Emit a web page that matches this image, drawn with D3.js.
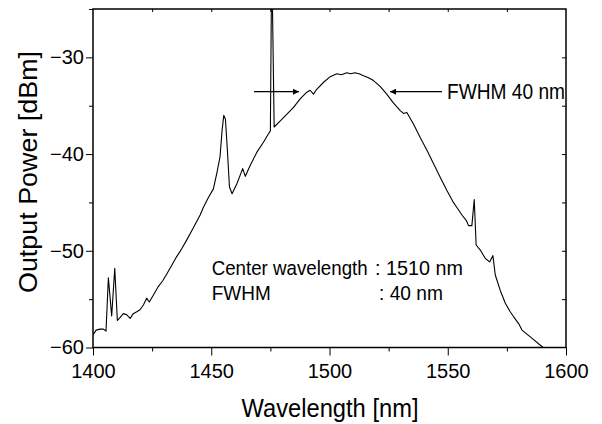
<!DOCTYPE html>
<html><head><meta charset="utf-8">
<script src="https://cdn.jsdelivr.net/npm/d3@7"></script>
<style>
body{margin:0;background:#fff;}
svg{display:block;font-family:Arial,"Liberation Sans",sans-serif;}
</style></head>
<body><svg id="c" width="602" height="424"></svg>
<script>
const wavelength = [1400.0,1401.3,1403.0,1404.4,1405.5,1406.5,1407.9,1409.2,1410.3,1411.4,1412.8,1414.2,1415.7,1417.0,1418.5,1419.9,1421.3,1422.7,1423.8,1425.5,1427.6,1429.5,1431.2,1433.3,1435.4,1437.5,1439.6,1442.5,1445.3,1446.7,1448.8,1450.9,1452.3,1453.7,1454.6,1455.3,1456.0,1456.8,1457.7,1458.8,1460.8,1462.2,1463.3,1464.4,1466.4,1469.3,1472.0,1474.2,1475.0,1475.4,1475.9,1476.6,1479.1,1481.9,1484.7,1487.6,1490.4,1491.8,1493.2,1494.6,1497.4,1500.3,1503.1,1505.0,1507.3,1509.0,1510.8,1512.5,1514.4,1516.5,1518.6,1521.4,1524.2,1527.0,1529.9,1531.3,1532.7,1535.5,1538.4,1541.2,1544.0,1546.8,1549.7,1552.4,1553.8,1556.0,1557.8,1558.8,1560.2,1561.2,1562.0,1563.7,1565.9,1567.7,1569.1,1570.1,1572.2,1574.3,1576.4,1577.8,1579.9,1581.4,1584.9,1589.8,1590.5];
const power = [-58.7,-58.2,-58.1,-58.1,-58.3,-52.8,-56.75,-51.8,-57.2,-56.9,-56.5,-56.6,-57.0,-56.5,-56.3,-56.1,-55.6,-54.9,-55.3,-54.6,-53.7,-53.1,-52.4,-51.5,-50.6,-49.8,-48.9,-47.6,-46.3,-45.5,-44.5,-43.6,-42.05,-40.3,-37.5,-36.0,-36.4,-39.5,-43.4,-44.1,-43.1,-42.2,-41.5,-42.3,-41.2,-39.8,-38.8,-37.9,-37.6,-25,-25,-37.2,-36.6,-35.9,-35.2,-34.3,-33.6,-33.4,-33.8,-33.3,-32.6,-32.0,-31.7,-31.8,-31.6,-31.7,-31.6,-31.7,-31.9,-32.1,-32.4,-33.0,-33.8,-34.7,-35.5,-35.8,-35.7,-36.9,-38.3,-39.6,-41.0,-42.4,-43.8,-45.0,-45.5,-46.3,-46.85,-47.4,-47.4,-44.7,-49.4,-49.9,-50.8,-51.15,-50.5,-52.5,-54.1,-55.4,-56.3,-56.8,-57.5,-58.2,-58.9,-59.9,-60];
const xTicks = [1400,1450,1500,1550,1600];
const yTicks = [-60,-50,-40,-30];
const xTitle = "Wavelength [nm]";
const yTitle = "Output Power [dBm]";
const noteLines = [["Center wavelength",": 1510 nm"],["FWHM",": 40 nm"]];
const fwhmLabel = "FWHM 40 nm";
const fwhmLevel = -33.55;
const fwhmLeft = 1487.1, fwhmRight = 1525.6;

const svg = d3.select("#c");
const L=93, R=566, T=9, B=347.5;
const x = d3.scaleLinear().domain([1400,1600]).range([L,R]);
const y = d3.scaleLinear().domain([-60,-25]).range([B,T]);

const defs = svg.append("defs");
defs.append("clipPath").attr("id","clip").append("rect")
  .attr("x",L).attr("y",T).attr("width",R-L).attr("height",B-T);
defs.append("marker").attr("id","ah").attr("viewBox","0 0 10 10").attr("refX",10).attr("refY",5)
  .attr("markerWidth",10).attr("markerHeight",6).attr("markerUnits","userSpaceOnUse").attr("orient","auto")
  .append("path").attr("d","M0,0L10,5L0,10Z").attr("fill","#000");

// curve
const line = d3.line().x(d=>x(d[0])).y(d=>y(d[1]));
svg.append("path").datum(wavelength.map((w,i)=>[w,power[i]]))
  .attr("clip-path","url(#clip)").attr("d",line)
  .attr("fill","none").attr("stroke","#000").attr("stroke-width",1.1).attr("stroke-linejoin","round");

// axes
const fs=20;
const axB = svg.append("g").attr("transform",`translate(0,${B})`)
  .call(d3.axisBottom(x).tickValues(d3.range(1400,1601,25)).tickSize(0).tickFormat(""));
axB.selectAll(".tick line").attr("y2",d=>d%50===0?8:4);
axB.select(".domain").remove();
svg.append("g").attr("transform",`translate(0,${B})`)
  .call(d3.axisBottom(x).tickValues(xTicks).tickSize(0).tickPadding(16).tickFormat(d3.format("d")))
  .call(g=>{g.select(".domain").remove();g.selectAll("text").attr("font-size",fs).attr("font-family","Arial, Liberation Sans").attr("fill","#000");});

const axL = svg.append("g").attr("transform",`translate(${L},0)`)
  .call(d3.axisLeft(y).tickValues(d3.range(-60,-24,5)).tickSize(0).tickFormat(""));
axL.selectAll(".tick line").attr("x2",d=>d%10===0?-7:-4);
axL.select(".domain").remove();
svg.append("g").attr("transform",`translate(${L},0)`)
  .call(d3.axisLeft(y).tickValues(yTicks).tickSize(0).tickPadding(9).tickFormat(d3.format("d")))
  .call(g=>{g.select(".domain").remove();g.selectAll("text").attr("font-size",fs).attr("font-family","Arial, Liberation Sans").attr("fill","#000");});

const axT = svg.append("g").attr("transform",`translate(0,${T})`)
  .call(d3.axisTop(x).tickValues(d3.range(1425,1600,25)).tickSizeInner(-3).tickSizeOuter(0).tickFormat(""));
axT.select(".domain").remove();
const axR = svg.append("g").attr("transform",`translate(${R},0)`)
  .call(d3.axisRight(y).tickValues(d3.range(-55,-25,5)).tickSizeInner(-4).tickSizeOuter(0).tickFormat(""));
axR.select(".domain").remove();

svg.append("rect").attr("x",L).attr("y",T).attr("width",R-L).attr("height",B-T)
  .attr("fill","none").attr("stroke","#000").attr("stroke-width",1.5);

// titles
svg.append("text").attr("x",241.5).attr("y",417)
  .attr("font-size",25).attr("textLength",177).attr("lengthAdjust","spacingAndGlyphs").text(xTitle);
svg.append("text").attr("transform",`translate(37,293) rotate(-90)`)
  .attr("font-size",26).attr("textLength",242).attr("lengthAdjust","spacingAndGlyphs").text(yTitle);

// FWHM arrows
svg.append("line").attr("x1",x(fwhmLeft)-45).attr("x2",x(fwhmLeft)).attr("y1",y(fwhmLevel)).attr("y2",y(fwhmLevel))
  .attr("stroke","#000").attr("stroke-width",1.2).attr("marker-end","url(#ah)");
svg.append("line").attr("x1",x(fwhmRight)+52).attr("x2",x(fwhmRight)).attr("y1",y(fwhmLevel)).attr("y2",y(fwhmLevel))
  .attr("stroke","#000").attr("stroke-width",1.2).attr("marker-end","url(#ah)");
svg.append("text").attr("x",x(fwhmRight)+57).attr("y",98.5).attr("font-size",22)
  .attr("textLength",118).attr("lengthAdjust","spacingAndGlyphs").text(fwhmLabel);

// note
const noteX = [211.7, 375], noteW = [[156,88],[59,64]];
noteLines.forEach((l,i)=>{
  svg.append("text").attr("x",noteX[0]).attr("y",275+i*25).attr("font-size",20.5)
    .attr("textLength",noteW[i][0]).attr("lengthAdjust","spacingAndGlyphs").text(l[0]);
  svg.append("text").attr("x",i===0?375:379).attr("y",275+i*25).attr("font-size",20.5)
    .attr("textLength",noteW[i][1]).attr("lengthAdjust","spacingAndGlyphs").text(l[1]);
});
</script></body></html>
